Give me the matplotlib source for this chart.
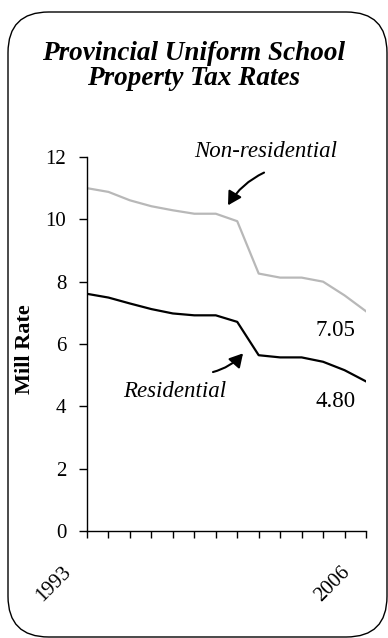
import matplotlib.pyplot as plt
from matplotlib.patches import FancyBboxPatch
from matplotlib.transforms import ScaledTranslation

plt.rcParams['font.family'] = ['Liberation Serif', 'DejaVu Serif']

years = list(range(1993, 2007))
non_residential = [11.0, 10.88, 10.61, 10.42, 10.29, 10.18, 10.18, 9.94,
                   8.26, 8.13, 8.13, 8.0, 7.56, 7.05]
residential = [7.61, 7.49, 7.30, 7.12, 6.98, 6.92, 6.92, 6.71,
               5.64, 5.57, 5.57, 5.43, 5.16, 4.80]
year_labels = ["1993"] + [""] * 12 + ["2006"]

fig = plt.figure(figsize=(3.88, 6.38), dpi=100)

# rounded frame round the whole chart
frame = FancyBboxPatch((8 / 388, 1 / 638), 379 / 388, 625 / 638,
                       boxstyle="round,pad=0,rounding_size=0.105",
                       transform=fig.transFigure, fill=False,
                       edgecolor="black", linewidth=1.0,
                       mutation_aspect=388 / 638)
fig.patches.append(frame)

fig.text(0.5, 1 - 66 / 638, "Provincial Uniform School\nProperty Tax Rates",
         ha="center", va="center", fontsize=19.5, fontweight="bold",
         fontstyle="italic", linespacing=1.0)

ax = fig.add_axes([87 / 388, 107 / 638, 279 / 388, 374 / 638])
ax.plot(years, non_residential, color="#b8b8b8", linewidth=1.6)
ax.plot(years, residential, color="black", linewidth=1.6)

ax.set_xlim(1993, 2006)
ax.set_ylim(0, 12)
ax.set_yticks([0, 2, 4, 6, 8, 10, 12])
ax.set_xticks(years)
ax.set_xticklabels(year_labels, rotation=45, ha="right",
                   rotation_mode="anchor", fontsize=15)
ax.tick_params(axis="y", labelsize=15, length=6, width=1, pad=9)
ax.tick_params(axis="x", length=5, width=1, pad=14)
shift = ScaledTranslation(-0.255, -0.05, fig.dpi_scale_trans)
for lab in ax.get_xticklabels():
    lab.set_transform(lab.get_transform() + shift)
for side in ["top", "right"]:
    ax.spines[side].set_visible(False)
ax.spines["left"].set_linewidth(1)
ax.spines["bottom"].set_linewidth(1)

fig.text(25 / 388, 1 - 349 / 638, "Mill Rate", rotation=90, ha="center",
         va="center", fontsize=16, fontweight="bold")

arrow = dict(arrowstyle="-|>,head_length=0.8,head_width=0.45",
             color="black", lw=1.5, shrinkA=0, shrinkB=0)

ax.text(2001.34, 12.18, "Non-residential", ha="center", va="center",
        fontsize=16.5, fontstyle="italic", clip_on=False)
ax.annotate("", xy=(1999.57, 10.45), xytext=(2001.25, 11.5),
            arrowprops=dict(arrow, connectionstyle="arc3,rad=0.15"))

ax.text(1997.1, 4.49, "Residential", ha="center", va="center",
        fontsize=16.5, fontstyle="italic")
ax.annotate("", xy=(2000.27, 5.70), xytext=(1998.87, 5.10),
            arrowprops=dict(arrow, connectionstyle="arc3,rad=0.15"))

ax.text(2004.56, non_residential[-1] - 0.61, f"{non_residential[-1]:.2f}",
        ha="center", va="center", fontsize=16.5)
ax.text(2004.56, residential[-1] - 0.63, f"{residential[-1]:.2f}",
        ha="center", va="center", fontsize=16.5)

fig.savefig("out.png", dpi=100)
